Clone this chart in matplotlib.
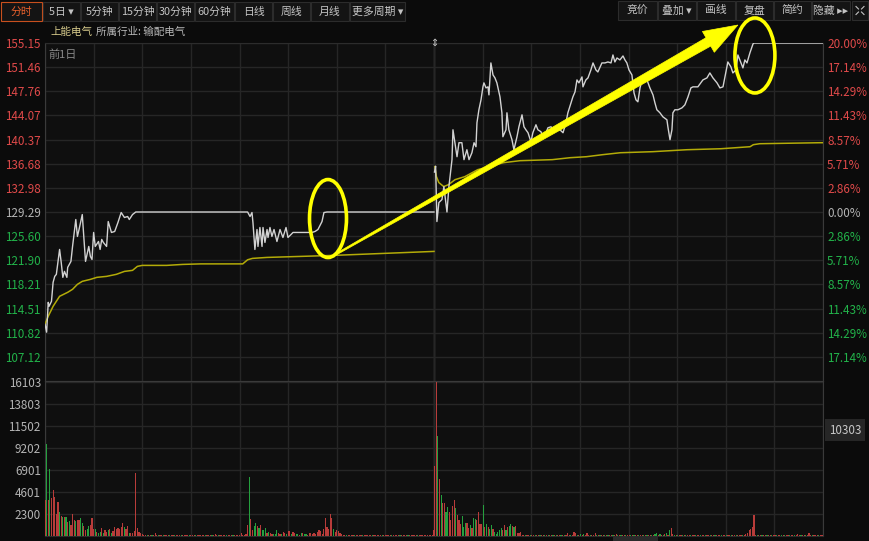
import matplotlib
matplotlib.use('Agg')
import matplotlib.pyplot as plt
import numpy as np
from matplotlib.patches import Ellipse, Polygon, Rectangle
from matplotlib.transforms import IdentityTransform

plt.rcParams['font.family'] = ['Noto Sans CJK SC', 'DejaVu Sans']

W, H = 869, 541
PREV_CLOSE = 129.29

# ---- price axis labels
price_ticks = [155.15, 151.46, 147.76, 144.07, 140.37, 136.68, 132.98, 129.29,
               125.60, 121.90, 118.21, 114.51, 110.82, 107.12]
pct_labels = ['20.00%', '17.14%', '14.29%', '11.43%', '8.57%', '5.71%', '2.86%', '0.00%',
              '2.86%', '5.71%', '8.57%', '11.43%', '14.29%', '17.14%']
vol_ticks = [2300, 4601, 6901, 9202, 11502, 13803, 16103]

# ---- day 1 price (minute, price)
d1_t = [0, 1, 2, 2.5, 4, 5, 6, 7, 9, 10, 11, 12, 13.5, 14, 16, 17, 19, 20, 21, 23, 23.5,
        25, 27, 28, 29, 30, 31, 33, 34, 35, 36, 38, 39, 41, 43, 45, 47, 49, 51, 52, 54, 56,
        125, 126.5, 127.7, 128.3, 129.5, 130.8, 131.4, 132.6, 133.9, 134.5, 135.7, 137,
        137.6, 138.8, 140, 141.3, 143.1, 145, 146.8, 148.7, 149.9, 151.8, 153, 157.3,
        161.6, 164.7, 166.6, 168.4, 170.9, 172.1, 174, 240]
d1_p = [112.12, 110.90, 115.47, 114.86, 115.63, 118.53, 119.44, 119.75, 123.56, 121.58,
        119.29, 120.20, 119.29, 120.82, 121.73, 124.02, 128.14, 125.55, 126.61, 128.90,
        127.07, 121.73, 124.02, 122.49, 122.03, 126.16, 124.02, 124.78, 123.56, 125.09,
        124.63, 124.02, 127.83, 126.16, 126.31, 127.68, 129.21, 128.45, 128.60, 128.14,
        128.90, 129.29,
        129.29, 128.60, 129.21, 127.68, 123.56, 126.61, 124.02, 126.92, 124.02, 126.92,
        124.63, 126.61, 125.39, 126.92, 125.55, 126.61, 124.78, 126.61, 125.39, 126.92,
        125.39, 125.85, 126.16, 126.16, 126.16, 126.16, 126.31, 126.61, 127.83, 129.21,
        129.29, 129.29]
d1_avg_t = [0, 2, 5, 9, 14, 17, 20, 23, 28, 32, 38, 44, 49, 54, 57, 60, 75, 85, 96, 122,
            125, 128, 137, 157, 178, 240]
d1_avg_p = [112.12, 113.34, 114.86, 116.39, 117.00, 117.46, 118.22, 118.68, 118.98, 119.29,
            119.44, 119.75, 120.20, 120.36, 120.97, 121.12, 121.12, 121.27, 121.35, 121.35,
            121.98, 122.19, 122.34, 122.49, 122.65, 123.26]

# ---- day 2 price (minute of day, price)
d2_t = [0.3, 1.0, 1.8, 3.0, 4.9, 6.1, 8.0, 9.2, 11.1, 11.7, 12.9, 14.2, 15.4, 17.2, 18.5,
        20.3, 21.6, 23.4, 24.7, 25.9, 26.5, 27.7, 29.0, 30.2, 30.8, 32.1, 33.3, 33.9, 35.1,
        36.4, 37.6, 38.8, 40.7, 41.9, 42.5, 44.4, 45.0, 46.2, 48.1, 49.3, 51.2, 52.4, 54.3,
        55.5, 56.7, 58.0, 59.8, 61.0, 62.9, 64.1, 66.0, 67.2, 69.1, 70.3, 72.2, 73.4, 75.9,
        77.7, 79.6, 81.4, 82.6, 84.5, 85.7, 87.0, 88.2, 89.4, 91.3, 91.9, 93.7, 95.0, 96.8,
        98.1, 99.9, 101.1, 103.6, 105.5, 107.3, 109.2, 110.4, 111.6, 112.9, 114.7, 116.6,
        117.8, 119.0, 120.3, 122.1, 123.4, 124.6, 125.8, 127.1, 128.9, 130.1, 131.4, 133.2,
        135.1, 136.3, 137.5, 139.4, 141.2, 143.7, 144.3, 145.6, 146.8, 147.4, 148.6, 150.5,
        153.0, 154.8, 156.7, 158.5, 159.8, 162.8, 165.9, 168.4, 170.2, 172.1, 174.6, 176.4,
        178.3, 180.1, 181.3, 183.2, 184.4, 186.3, 187.5, 189.4, 190.6, 191.8, 193.1, 194.9,
        196.8, 197.4, 240]
d2_p = [135.40, 136.30, 127.83, 130.73, 131.19, 133.17, 129.29, 133.17, 137.30, 141.87,
        139.89, 137.75, 139.89, 139.89, 137.30, 138.82, 137.30, 138.36, 139.89, 139.28,
        142.94, 144.93, 146.45, 148.44, 149.05, 148.28, 148.44, 147.21, 152.10, 150.27,
        149.81, 149.05, 146.91, 144.47, 140.81, 141.87, 144.47, 141.87, 140.35, 138.82,
        140.81, 142.33, 144.16, 142.33, 141.87, 141.42, 140.04, 141.42, 142.64, 141.87,
        141.57, 140.65, 141.42, 142.18, 142.33, 141.87, 141.87, 141.87, 141.42, 142.94,
        144.47, 146.00, 146.91, 147.67, 149.50, 149.05, 149.96, 148.44, 149.50, 149.81,
        151.03, 152.10, 151.03, 150.72, 152.10, 152.10, 152.25, 152.10, 153.32, 152.25,
        152.86, 152.56, 153.17, 152.56, 152.10, 151.03, 150.27, 147.52, 146.45, 146.15,
        148.28, 149.96, 150.27, 149.50, 148.28, 147.21, 146.00, 144.93, 144.47, 143.86,
        143.40, 142.33, 140.35, 141.87, 144.47, 144.93, 144.93, 145.23, 145.69, 146.91,
        148.28, 148.44, 148.44, 149.50, 149.81, 150.57, 149.81, 149.05, 148.28, 148.44,
        150.72, 152.25, 151.49, 150.57, 151.03, 153.32, 152.10, 151.34, 152.56, 152.10,
        153.63, 155.00, 155.15, 155.15]
d2_avg_t = [0.5, 1.5, 3, 6, 9, 13, 19, 27, 43, 53, 73, 84, 94, 104, 115, 135, 156, 177,
            195, 197, 201, 238, 240]
d2_avg_p = [136.23, 134.70, 133.79, 133.18, 133.48, 134.24, 134.70, 135.77, 136.84, 137.14,
            137.30, 137.60, 137.75, 138.06, 138.36, 138.52, 138.82, 138.97, 139.28, 139.59,
            139.74, 139.89, 139.89]

# ---- volume per minute, 'r' = up bar, 'g' = down bar
d1_vol = ([3766, 9624, 3766, 7009, 3940, 4812, 4045, 2301, 3522, 2546,
           2092, 2022, 2022, 2022, 1499, 1604, 1151, 2301, 1674, 1604,
           1674, 1674, 1848, 1325, 1046, 628, 697, 1046, 1200, 1848,
           697, 697, 453, 279, 453, 802, 349, 628, 453, 628,
           697, 279, 558, 976, 697, 802, 700, 976, 1325, 976,
           697, 1046, 349, 279, 349, 523, 6556, 802, 453, 279, 209]
          + [90, 120, 70, 100, 80, 150, 110, 279, 120, 80, 60, 100, 90, 70, 130, 80, 60, 90, 110, 70,
             80, 60, 100, 90, 70, 80, 120, 60, 90, 70, 80, 100, 60, 70, 90, 80, 60, 110, 70, 80,
             90, 60, 70, 100, 209, 60, 90, 70, 80, 60, 90, 70, 80, 60, 70, 90, 80, 60, 70, 100,
             349, 110, 90, 240]
          + [1116, 6172, 1813, 593, 1046, 1395, 1011, 872, 1116, 593,
             593, 837, 349, 418, 314, 174, 244, 244, 593, 314,
             174, 174, 418, 314, 244, 488, 558, 244, 383, 314,
             174, 174, 105, 349, 314, 174, 174, 105, 349, 279,
             174, 314, 244, 418, 593, 523, 244, 767, 1918, 941,
             767, 2267, 1918, 697, 418, 593, 488, 314, 174]
          + [90, 70, 80, 60, 70, 60, 80, 70, 60, 70, 90, 60, 70, 80, 60, 70, 60, 80, 70, 60,
             70, 60, 80, 60, 70, 60, 70, 80, 60, 70, 60, 70, 60, 80, 70, 60, 70, 60, 70, 80,
             60, 70, 60, 70, 60, 80, 70, 60, 70, 60, 80, 70, 60, 70, 90, 120, 593])
d1_dir = ("rgrgrrrrrg" "rgrgrgrrrg" "rrggrrggrr" "rgrggrgrrg" "rgrrrrrrrg" "rrgrrrrrrr" "r"
          "rrgrrgrrrgrrgrrrgrrg" "rrrgrrrrgrrrgrrrrrgr" "rrgrrrgrrrrgrrrgrrrr" "rrrr"
          "rgrrggrgrg" "ggrgrrgggr" "rgrrgrrgrr" "ggrgrggrrr" "rrrrrrrrrr" "rrrgrrrrr"
          "rrgrrrrgrrrrgrrrrrgr" "rrrrgrrrrrgrrrrgrrrr" "grrrrrgrrrrrrrrrr")

d2_vol = ([7323, 16103, 10461, 5998, 4254, 3452, 3452, 2511, 3034, 2511,
           1709, 3103, 3801, 2964, 2232, 1709, 1220, 2092, 941, 1360,
           1360, 837, 1116, 837, 1918, 1813, 1709, 2511, 1220, 1220,
           3208, 941, 1290, 941, 767, 1116, 767, 418, 244, 418,
           593, 872, 593, 1116, 593, 941, 1011, 1220, 1011, 941,
           1046, 314, 314, 418, 140]
          + [100, 70, 90, 60, 80, 70, 140, 60, 90, 70, 120, 80, 60, 90, 70, 110, 60, 80, 100, 70,
             90, 60, 80, 120, 70, 90, 60, 314, 100, 80, 140, 418, 349, 120, 90, 170, 110, 244, 90, 279,
             120, 80, 150, 100, 349, 90, 140, 70, 110, 90, 150, 80, 120, 140, 90, 70, 110, 160, 90, 80,
             130, 70, 90, 110, 80, 150, 90, 70, 120, 100, 80, 90, 140, 70, 100, 80, 110, 90, 120, 150,
             110, 170, 314, 120, 244, 90, 140, 200, 314, 150, 663, 837, 200, 90, 110, 80, 150, 70, 90, 120,
             80, 90, 70, 100, 80, 60, 90, 120, 70, 80, 90, 60, 80, 100, 70, 90, 60, 80, 110, 70,
             90, 60, 80, 70, 100, 60, 80, 150, 90, 70, 60, 80, 70, 90, 60, 80, 120, 200, 300, 593,
             767, 941, 2162, 150, 80, 70, 90, 60, 80, 70, 60, 90, 70, 80, 60, 70, 90, 60, 80, 70,
             60, 80, 70, 60, 90, 70, 80, 60, 70, 244, 80, 60, 70, 90, 60, 80, 349, 70, 60, 80,
             70, 60, 80, 90, 70, 120])
d2_dir = ("rrgrgrrggr" "rrrgrrrggg" "rrgrggrrrr" "grgrggrggg" "ggrrgrggrg" "rrrrr"
          "rgrrgrrgrrgrrgrgrrgr" "grrgrgrrrgrrrgrgrgrr" "rgrrrgrgrrgrgrrgrrgr"
          "grrgrrgrgrrgrrgrgrrg" "rggrgrgrgrgrrgrgrrgr" "grrgrrgrrgrrgrrgrrgr"
          "rrgrrgrrgrrgrrrgrrrr" "rrrrgrrgrrgrrgrrgrrg" "rgrrgrrgrrrgrrgrrrgr" "rrgrrr")

BG = '#0b0b0b'
PANEL = '#0f0f0f'
GRID = '#262626'
RED = '#e04a4a'
GREEN = '#22b34a'
GREY = '#b4b4b4'
FS = 8.4

fig = plt.figure(figsize=(W / 100, H / 100), dpi=100, facecolor=BG)


def box(x0, y0, x1, y1):
    return [x0 / W, 1 - y1 / H, (x1 - x0) / W, (y1 - y0) / H]


ax = fig.add_axes(box(45, 43, 823, 381), facecolor=PANEL)
axv = fig.add_axes(box(45, 381, 823, 536), facecolor=PANEL)

# price panel
ax.plot(d1_t, d1_p, color='#d2d2d2', lw=1.0, zorder=4)
ax.plot(d1_avg_t, d1_avg_p, color='#b3ab08', lw=1.1, zorder=3)
ax.plot(np.array(d2_t) + 240, d2_p, color='#d2d2d2', lw=1.0, zorder=4)
ax.plot(np.array(d2_avg_t) + 240, d2_avg_p, color='#b3ab08', lw=1.1, zorder=3)
ax.set_xlim(0, 480)
ax.set_ylim(103.43, 155.15)

# volume panel
vol = np.array(d1_vol + d2_vol)
dirs = d1_dir + d2_dir
vx = np.concatenate([np.arange(len(d1_vol)), np.arange(len(d2_vol)) + 240.4])
vcol = ['#b83c3a' if c == 'r' else '#25a03e' for c in dirs]
axv.bar(vx, vol, width=0.72, color=vcol, zorder=3)
axv.set_xlim(0, 480)
axv.set_ylim(0, 16208)

for a in (ax, axv):
    a.set_xticks(np.arange(0, 481, 30))
    a.tick_params(axis='x', length=0, labelbottom=False)
    a.grid(True, color=GRID, lw=1.0, zorder=0)
    a.axvline(240, color='#4a4a4a', lw=1.0, zorder=1)
    for s in a.spines.values():
        s.set_color('#2c2c2c')
    a.spines['left'].set_color('#3a3a3a')
    a.spines['right'].set_color('#3a3a3a')

ax.set_yticks(price_ticks)
ax.set_yticklabels([f'{p:.2f}' for p in price_ticks])
ax.tick_params(axis='y', length=0, pad=3, labelsize=FS)
for p, lab in zip(price_ticks, ax.get_yticklabels()):
    lab.set_color(RED if p > PREV_CLOSE else (GREEN if p < PREV_CLOSE else GREY))

ax2 = ax.twinx()
ax2.set_ylim(ax.get_ylim())
ax2.set_yticks(price_ticks)
ax2.set_yticklabels(pct_labels)
ax2.tick_params(axis='y', length=0, pad=3, labelsize=FS)
for s in ax2.spines.values():
    s.set_visible(False)
for p, lab in zip(price_ticks, ax2.get_yticklabels()):
    lab.set_color(RED if p > PREV_CLOSE else (GREEN if p < PREV_CLOSE else GREY))

axv.set_yticks(vol_ticks)
axv.set_yticklabels([str(v) for v in vol_ticks])
axv.tick_params(axis='y', length=0, pad=3, labelsize=FS, labelcolor=GREY)
axv.spines['top'].set_color('#3a3a3a')

ax.text(0.004, 0.965, '前1日', transform=ax.transAxes, color='#8a8a8a', fontsize=8,
        va='center', ha='left')
ax.text(240, 155.15, '⇕', color='#d0d0d0', fontsize=7, ha='center', va='center',
        zorder=6, clip_on=False)

# header texts
fig.text(50 / W, 1 - 32 / H, '上能电气', color='#d8cc8c', fontsize=7.6, va='center')
fig.text(96 / W, 1 - 32 / H, '所属行业: 输配电气', color='#b8b8b8', fontsize=7.6, va='center')

# toolbar
left_buttons = ['分时', '5日 ▾', '5分钟', '15分钟', '30分钟', '60分钟', '日线', '周线', '月线', '更多周期 ▾']
left_edges = [1, 43, 81, 119, 157, 195, 235, 273, 311, 350, 406]
right_buttons = ['竞价', '叠加 ▾', '画线', '复盘', '简约', '隐藏 ▸▸']
right_edges = [618, 658, 697, 736, 774, 812, 851]


def button(label, x0, x1, y0=2, y1=21, active=False):
    fig.add_artist(Rectangle((x0 / W, 1 - y1 / H), (x1 - x0) / W, (y1 - y0) / H,
                             transform=fig.transFigure, fc='#141414',
                             ec='#c8501e' if active else '#2c2c2c', lw=0.8))
    fig.text((x0 + x1) / 2 / W, 1 - (y0 + y1) / 2 / H, label,
             color='#e8602c' if active else '#c4c4c4', fontsize=7.8,
             ha='center', va='center')


for i, lab in enumerate(left_buttons):
    button(lab, left_edges[i], left_edges[i + 1] - 1, active=(i == 0))
for i, lab in enumerate(right_buttons):
    button(lab, right_edges[i], right_edges[i + 1] - 1, y0=1, y1=20)
button('', 852, 868, y0=1, y1=20)
for sx, sy in [(-1, -1), (1, -1), (-1, 1), (1, 1)]:
    cx, cy = 860 + sx * 4, 10.5 + sy * 4
    fig.add_artist(plt.Line2D([cx / W, (cx - sx * 2.5) / W], [1 - cy / H, 1 - (cy - sy * 2.5) / H],
                              transform=fig.transFigure, color='#c4c4c4', lw=0.8))

# volume cursor label
fig.text(845 / W, 1 - 430 / H, '10303', color='#c8c8c8', fontsize=FS, ha='center',
         va='center', bbox=dict(boxstyle='square,pad=0.35', fc='#262626', ec='none'))
# scroll thumb
fig.add_artist(Rectangle((613 / W, 0), 45 / W, 4 / H, transform=fig.transFigure,
                         fc='#2a2a2a', ec='none'))

# yellow annotations (drawn in pixel space, anchored on data points)
YEL = '#ffff00'
tail = ax.transData.transform((178, 122.6))
tip = ax.transData.transform((427.5, 157.9))
d = tip - tail
u = d / np.hypot(*d)
n = np.array([-u[1], u[0]])
base = tip - u * 34
pts = [tail + n * 0.7, base + n * 4.8, base + n * 12, tip,
       base - n * 12, base - n * 4.8, tail - n * 0.7]
fig.add_artist(Polygon(pts, closed=True, transform=IdentityTransform(), fc=YEL, ec=YEL,
                       lw=0.5, zorder=10))

for cx, cy, w, h in [(174.6, 128.29, 37, 78), (438.0, 153.24, 40, 75)]:
    c = ax.transData.transform((cx, cy))
    fig.add_artist(Ellipse(c, w, h, transform=IdentityTransform(), fill=False,
                           ec=YEL, lw=2.6, zorder=10))

fig.savefig('out.png', dpi=100, facecolor=BG)
